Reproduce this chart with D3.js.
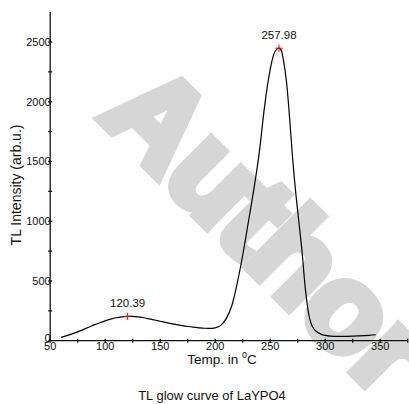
<!DOCTYPE html>
<html><head><meta charset="utf-8">
<script src="https://cdn.jsdelivr.net/npm/d3@7"></script>
<style>body{margin:0;background:#fff}svg{display:block}</style>
</head><body>
<script>
const temps = [60,65,70,75,80,85,90,95,100,105,110,115,120,125,130,135,140,145,150,155,160,165,170,175,180,185,190,195,200,205,210,215,220,225,230,235,240,245,250,253,256,258,260,262,265,268,270,273,276,279,282,284,286,288,290,293,296,300,305,310,320,330,340,346];
const intensity = [28,42,57,74,93,113,132,150,166,180,192,200,204,203,199,192,183,173,163,153,143,134,126,119,113,108,104,103,108,128,185,290,480,715,985,1260,1570,1970,2270,2390,2440,2448,2432,2350,2150,1820,1570,1260,1000,740,430,280,180,125,95,70,55,44,38,36,37,40,45,50];
const peakTemps = [120.39, 257.98];
const peakValues = [204, 2448];
const peakLabels = ["120.39", "257.98"];
const xTicks = [50,100,150,200,250,300,350];
const xMinor = [75,125,175,225,275,325,375];
const yTicks = [0,500,1000,1500,2000,2500];
const yMinor = [250,750,1250,1750,2250];
const yTitle = "TL Intensity (arb.u.)";
const caption = "TL glow curve of LaYPO4";
const watermark = "Author";

const W = 409, H = 404;
const font = "'Liberation Sans', Arial, sans-serif";
const svg = d3.select("body").append("svg").attr("width", W).attr("height", H)
  .style("font-family", font);

const x = d3.scaleLinear().domain([50, 375]).range([50.2, 407.7]);
const y = d3.scaleLinear().domain([0, 2750]).range([340.7, 12.1]);

// watermark
svg.append("text")
  .attr("transform", "translate(269,229) rotate(45)")
  .attr("text-anchor", "middle").attr("dominant-baseline", "central")
  .attr("font-size", 122).attr("font-weight", "bold")
  .attr("fill", "#d6d6d6").attr("stroke", "#d6d6d6").attr("stroke-width", 10)
  .attr("stroke-linejoin", "miter").text(watermark);

// axes
const ax = svg.append("g").attr("stroke", "#111").attr("stroke-width", 1.3);
ax.append("line").attr("x1", x(50)).attr("x2", x(375)).attr("y1", y(0)).attr("y2", y(0));
ax.append("line").attr("x1", x(50)).attr("x2", x(50)).attr("y1", y(0)).attr("y2", y(2750));
ax.selectAll(".xt").data(xTicks.concat(xMinor)).enter().append("line")
  .attr("x1", d => x(d)).attr("x2", d => x(d)).attr("y1", y(0) - 2).attr("y2", y(0) + 2);
ax.selectAll(".yt").data(yTicks.concat(yMinor)).enter().append("line")
  .attr("x1", x(50) - 2).attr("x2", x(50) + 2).attr("y1", d => y(d)).attr("y2", d => y(d));

svg.selectAll(".xl").data(xTicks).enter().append("text")
  .attr("x", d => x(d)).attr("y", y(0) + 9.5).attr("text-anchor", "middle")
  .attr("font-size", 11).attr("fill", "#111").text(d => d);
svg.selectAll(".yl").data(yTicks).enter().append("text")
  .attr("x", x(50) + 0.5).attr("y", d => y(d) + 4 - (d === 0 ? 2.5 : 0)).attr("text-anchor", "end")
  .attr("font-size", 11).attr("fill", "#111").text(d => d);

// titles
svg.append("text").attr("transform", "translate(21,185) rotate(-90)")
  .attr("text-anchor", "middle").attr("font-size", 14).attr("fill", "#111").text(yTitle);
const xt = svg.append("text").attr("x", 222).attr("y", 364).attr("text-anchor", "middle")
  .attr("font-size", 13.5).attr("fill", "#111");
xt.append("tspan").text("Temp. in ");
xt.append("tspan").attr("font-size", 9).attr("dy", -6).text("0");
xt.append("tspan").attr("dy", 6).text("C");
svg.append("text").attr("x", 212).attr("y", 400).attr("text-anchor", "middle")
  .attr("font-size", 13).attr("fill", "#111").text(caption);

// curve
const pts = temps.map((t, i) => [t, intensity[i]]);
svg.append("path").datum(pts)
  .attr("d", d3.line().x(d => x(d[0])).y(d => y(d[1])).curve(d3.curveMonotoneX))
  .attr("fill", "none").attr("stroke", "#000").attr("stroke-width", 1.2);

// peaks
const peaks = peakTemps.map((t, i) => ({t, v: peakValues[i], l: peakLabels[i]}));
const pg = svg.selectAll(".pk").data(peaks).enter().append("g");
pg.append("line").attr("x1", d => x(d.t) - 3.5).attr("x2", d => x(d.t) + 3.5)
  .attr("y1", d => y(d.v)).attr("y2", d => y(d.v)).attr("stroke", "#f00").attr("stroke-width", 1);
pg.append("line").attr("x1", d => x(d.t)).attr("x2", d => x(d.t))
  .attr("y1", d => y(d.v) - 3.5).attr("y2", d => y(d.v) + 3.5).attr("stroke", "#f00").attr("stroke-width", 1);
pg.append("text").attr("x", d => x(d.t)).attr("y", d => y(d.v) - 9)
  .attr("text-anchor", "middle").attr("font-size", 11.5).attr("fill", "#111").text(d => d.l);
</script>
</body></html>
